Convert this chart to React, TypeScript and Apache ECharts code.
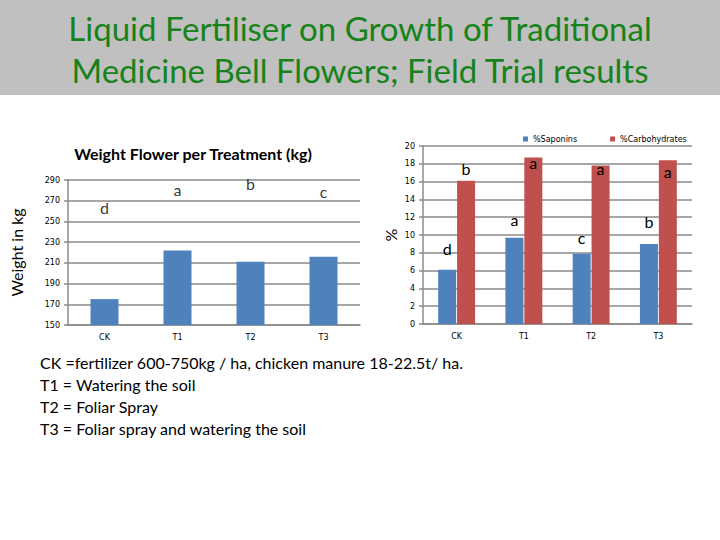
import React, { useEffect, useRef } from 'react';
import * as echarts from 'echarts';

// treatments
const categories = ['CK', 'T1', 'T2', 'T3'];

// left chart: flower weight (kg)
const weightValues = [175, 222, 211, 216];
const weightLetters = ['d', 'a', 'b', 'c'];
const weightLetterPos = [263, 281, 287, 279];

// right chart: percentages
const saponins = [6.1, 9.7, 7.9, 9.0];
const carbohydrates = [16.1, 18.7, 17.8, 18.4];
const saponinLetters = ['d', 'a', 'c', 'b'];
const saponinLetterPos = [8.5, 11.7, 9.7, 11.5];
const carbLetters = ['b', 'a', 'a', 'a'];
const carbLetterPos = [17.5, 18.2, 17.5, 17.1];

const notes = [
  'CK =fertilizer 600-750kg / ha, chicken manure 18-22.5t/ ha.',
  'T1 = Watering the soil',
  'T2 = Foliar Spray',
  'T3 = Foliar spray and watering the soil',
];

const FONT = 'Lato, "Open Sans", sans-serif';
const GRID_COLOR = '#8a8a8a';

const letterPoints = (letters: string[], pos: number[]) =>
  letters.map((l, i) => ({ name: l, coord: [categories[i], pos[i]] }));

export default function App() {
  const chartRef = useRef<HTMLDivElement>(null);

  useEffect(() => {
    if (!chartRef.current) return;
    const chart = echarts.init(chartRef.current, null, { renderer: 'svg' });

    const axisLabel = { fontSize: 8, color: '#000', fontFamily: 'Verdana, "DejaVu Sans", sans-serif' };
    const lineStyle = { color: GRID_COLOR, width: 1.5 };
    const letterLabel = { show: true, position: 'inside', formatter: '{b}', color: '#000', fontSize: 16, fontFamily: FONT };

    const option = {
      animation: false,
      backgroundColor: '#fff',
      textStyle: { fontFamily: FONT },
      legend: {
        data: ['%Saponins', '%Carbohydrates'],
        left: 518,
        top: 130,
        itemWidth: 5,
        itemHeight: 5,
        itemGap: 33,
        icon: 'rect',
        textStyle: { fontSize: 8, color: '#000', fontFamily: 'Verdana, "DejaVu Sans", sans-serif' },
      },
      graphic: [
        { type: 'rect', shape: { x: 0, y: 0, width: 720, height: 95 }, style: { fill: '#c0c0c0' } },
        {
          type: 'text', x: 360, y: 28,
          style: { text: 'Liquid Fertiliser on Growth of Traditional', fill: '#17821a', font: `33px ${FONT}`, textAlign: 'center', textVerticalAlign: 'middle' },
        },
        {
          type: 'text', x: 360, y: 70,
          style: { text: 'Medicine Bell Flowers; Field Trial results', fill: '#17821a', font: `33px ${FONT}`, textAlign: 'center', textVerticalAlign: 'middle' },
        },
        {
          type: 'text', x: 193, y: 153,
          style: { text: 'Weight Flower per Treatment (kg)', fill: '#000', font: `bold 16px ${FONT}`, textAlign: 'center', textVerticalAlign: 'middle' },
        },
        ...notes.map((t, i) => ({
          type: 'text', x: 40, y: 362 + i * 22,
          style: { text: t, fill: '#000', font: `16px ${FONT}`, textVerticalAlign: 'middle' },
        })),
      ],
      grid: [
        { left: 68, right: 360, top: 180, bottom: 215 },
        { left: 423, right: 28, top: 146, bottom: 216 },
      ],
      xAxis: [
        {
          type: 'category', gridIndex: 0, data: categories,
          axisLine: { lineStyle }, axisTick: { lineStyle, length: 4 },
          axisLabel: { ...axisLabel, margin: 8 },
        },
        {
          type: 'category', gridIndex: 1, data: categories,
          axisLine: { lineStyle }, axisTick: { lineStyle, length: 4 },
          axisLabel: { ...axisLabel, margin: 8 },
        },
      ],
      yAxis: [
        {
          type: 'value', gridIndex: 0, min: 150, max: 290, interval: 20,
          name: 'Weight in kg', nameLocation: 'middle', nameGap: 44,
          nameTextStyle: { fontSize: 16, color: '#000', fontFamily: FONT },
          axisLine: { show: true, lineStyle }, axisTick: { show: true, lineStyle, length: 4 },
          splitLine: { lineStyle },
          axisLabel: { ...axisLabel, margin: 8 },
        },
        {
          type: 'value', gridIndex: 1, min: 0, max: 20, interval: 2,
          name: '%', nameLocation: 'middle', nameGap: 25,
          nameTextStyle: { fontSize: 16, color: '#000', fontFamily: FONT },
          axisLine: { show: true, lineStyle }, axisTick: { show: true, lineStyle, length: 4 },
          splitLine: { lineStyle },
          axisLabel: { ...axisLabel, margin: 8 },
        },
      ],
      series: [
        {
          name: 'Weight', type: 'bar', xAxisIndex: 0, yAxisIndex: 0,
          data: weightValues, barWidth: 28, itemStyle: { color: '#4f81bd' },
        },
        {
          name: 'weightLetters', type: 'scatter', xAxisIndex: 0, yAxisIndex: 0,
          data: weightLetterPos.map((v, i) => ({ value: [categories[i], v], name: weightLetters[i] })),
          symbolSize: 1, itemStyle: { color: 'transparent' },
          label: letterLabel,
        },
        {
          name: '%Saponins', type: 'bar', xAxisIndex: 1, yAxisIndex: 1,
          data: saponins, barWidth: 18, barGap: '5%', itemStyle: { color: '#4f81bd' },
          markPoint: {
            symbol: 'circle', symbolSize: 1, itemStyle: { color: 'transparent' },
            label: letterLabel,
            data: letterPoints(saponinLetters, saponinLetterPos),
          },
        },
        {
          name: '%Carbohydrates', type: 'bar', xAxisIndex: 1, yAxisIndex: 1,
          data: carbohydrates, barWidth: 18, barGap: '5%', itemStyle: { color: '#c0504d' },
          markPoint: {
            symbol: 'circle', symbolSize: 1, itemStyle: { color: 'transparent' },
            label: letterLabel,
            data: letterPoints(carbLetters, carbLetterPos),
          },
        },
      ],
    };
    chart.setOption(option as any);

    return () => {
      chart.dispose();
    };
  }, []);

  return (
    <div style={{ position: 'fixed', left: 0, top: 0, width: 720, height: 540 }}>
      <div ref={chartRef} style={{ width: 720, height: 540 }} />
    </div>
  );
}
